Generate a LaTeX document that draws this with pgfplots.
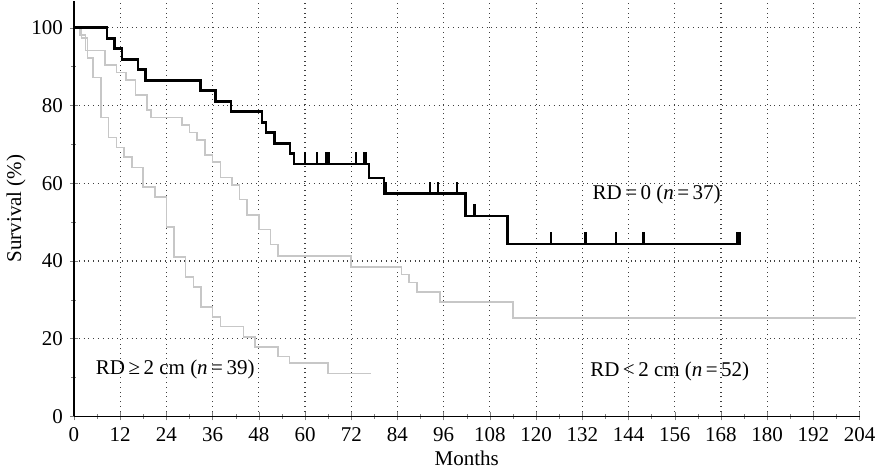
\documentclass[border=0pt]{standalone}
\usepackage{fontspec}
\setmainfont{Liberation Serif}
\usepackage{pgfplots}
\pgfplotsset{compat=1.18}

% censoring mark: short upward stroke
\pgfdeclareplotmark{cens}{%
  \pgfpathmoveto{\pgfpointorigin}%
  \pgfpathlineto{\pgfpoint{0pt}{6pt}}%
  \pgfusepathqstroke}

\begin{document}
\begin{tikzpicture}
\begin{axis}[
  scale only axis, width=393pt, height=208pt,
  xmin=0, xmax=204, ymin=0, ymax=107,
  axis lines=left, axis line style={-, line width=0.6pt},
  xtick={0,12,...,204}, ytick={0,20,...,100},
  minor x tick num=1, minor y tick num=1,
  tick align=center, major tick length=4pt, minor tick length=2.5pt,
  grid=major, major grid style={dotted, black!75, line width=0.6pt},
  font=\fontsize{10.5}{12}\selectfont,
  /pgf/number format/assume math mode=true,
  xlabel={Months}, ylabel={Survival (\%)},
  xlabel style={yshift=2pt}, ylabel style={yshift=-4pt},
  clip=false,
]
% RD < 2 cm (n = 52)
\addplot[const plot, black!22, line width=0.8pt] coordinates {
(0,100) (1.5,98.1) (3,94.2) (8,90.4) (11,88.5) (13.5,86.5) (16,82.7)
(19,78.8) (20,76.9) (28,75.0) (30,73.1) (32,71.2) (34,67.3) (36,65.4)
(38,61.5) (41,59.6) (43,55.8) (45,51.9) (48,48.1) (51,44.2) (53,41.3)
(72,38.5) (85,36.5) (87,34.5) (89,32.0) (95,29.5) (114,25.3) (203,25.3)};
% RD >= 2 cm (n = 39)
\addplot[const plot, black!22, line width=0.8pt] coordinates {
(0,100) (2,97.4) (3.5,92.3) (5,87.2) (7,76.9) (9,71.8) (11,69.2)
(13,66.7) (15,64.1) (18,59.0) (21,56.4) (24,48.7) (26,41.0) (29,35.9)
(31,33.3) (33,28.2) (36,25.6) (38,23.1) (44,20.5) (47,17.9) (53,15.4)
(56,13.8) (66,11.0) (77,11.0)};
% RD = 0 (n = 37)
\addplot[const plot, black, line width=1.3pt] coordinates {
(0,100) (8.6,97.3) (10.6,94.6) (12.5,91.9) (16.6,89.2) (18.5,86.5)
(32.9,83.8) (36.7,81.1) (40.8,78.4) (48.8,75.7) (49.9,73.0) (52.1,70.3)
(56.1,67.6) (57.1,64.9) (76.6,61.3) (80.5,57.3) (101.6,51.6)
(112.6,44.4) (173.2,44.4)};
\addplot[only marks, mark=cens, mark options={line width=1.1pt}, black] coordinates {
(60,64.9) (63.1,64.9) (65.5,64.9) (66.1,64.9) (73.3,64.9) (75.3,64.9)
(75.9,64.9) (80.9,57.3) (92.4,57.3) (94.5,57.3) (99.5,57.3) (104,51.6)
(123.9,44.4) (132.8,44.4) (140.7,44.4) (147.9,44.4)
(172.2,44.4) (172.6,44.4) (173.0,44.4)};
\node at (axis cs:151.3,57.1) {RD\,=\,0 (\textit{n}\,=\,37)};
\node at (axis cs:26.3,12.0) {RD\,≥\,2 cm (\textit{n}\,=\,39)};
\node at (axis cs:154.7,11.5) {RD\,<\,2 cm (\textit{n}\,=\,52)};
\end{axis}
\end{tikzpicture}
\end{document}
